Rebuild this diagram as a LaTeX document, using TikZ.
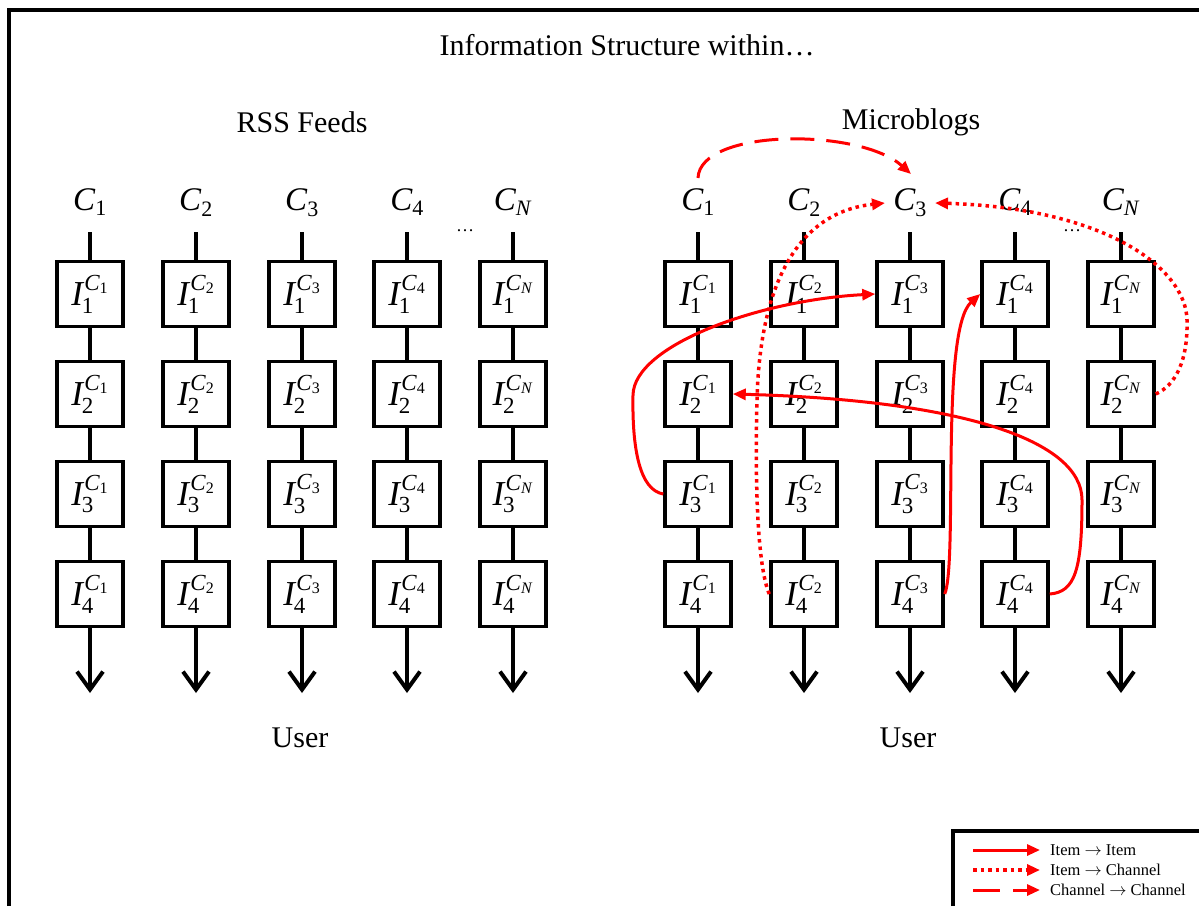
\documentclass[tikz,border=0pt]{standalone}
\usepackage{amsmath}
\usepackage{fontspec}
\setmainfont{Liberation Serif}
\usetikzlibrary{arrows.meta}
\DeclareMathSizes{33}{33}{22}{16}
\DeclareMathSizes{35}{35}{23}{16}
\newcommand{\chlab}[1]{$\textit{C}_{\text{#1}}$}
\newcommand{\itlab}[2]{$\textit{I}^{\kern1.5pt\raisebox{2pt}{$\scriptstyle\textit{C}_{\text{#1}}$}}_{\kern-1pt\text{#2}}$}
\begin{document}
\begin{tikzpicture}[x=1pt,y=-1pt,
  box/.style={draw,line width=3.5pt,minimum width=66pt,minimum height=65pt,inner sep=0pt,font=\fontsize{35}{42}\selectfont},
  link/.style={line width=4pt},
  down/.style={line width=4pt,-{Straight Barb[length=18pt,width=26pt]}},
  rs/.style={red,line width=3pt,-{Triangle[length=13pt,width=11pt]}},
  rdot/.style={rs,line width=3.5pt,dash pattern=on 3.5pt off 4pt},
  rdash/.style={rs,dash pattern=on 24pt off 12pt},
  lbl/.style={font=\fontsize{30}{36}\selectfont},
  chl/.style={font=\fontsize{33}{40}\selectfont,inner sep=0pt,anchor=base},
  leg/.style={font=\fontsize{16.5}{18}\selectfont,anchor=west,inner sep=0pt}
]
\useasboundingbox (0,0) rectangle (1199,906);
% frame
\draw[line width=3.5pt] (9,906) -- (9,10) -- (1199,10);
% titles
\node[lbl] (title) at (627,45) {Information Structure within…};
\node[lbl] (rss) at (302,122) {RSS Feeds};
\node[lbl] (mb) at (911,122) {Microblogs};
\node[lbl] (userL) at (300,738) {User};
\node[lbl] (userR) at (908,738) {User};
\node[font=\fontsize{18}{20}\selectfont,inner sep=0pt] (dotsL) at (465,231) {…};
\node[font=\fontsize{18}{20}\selectfont,inner sep=0pt] (dotsR) at (1072,231) {…};
% columns
\foreach \side/\xo in {L/0,R/608}{
  \foreach \c/\xx/\sub in {1/90/1,2/196/2,3/302/3,4/407/4,N/513/\textit{N}}{
    \coordinate (\side\c top) at (\xx+\xo,232);
    \coordinate (\side\c end) at (\xx+\xo,693);
    \node[chl] (\side C\c) at (\xx+\xo,210) {\chlab{\sub}};
    \foreach \r/\yy in {1/294,2/394,3/494,4/594}{
      \node[box] (\side\c\r) at (\xx+\xo,\yy) {\itlab{\sub}{\r}};
    }
    \draw[link] (\side\c top) -- (\side\c1);
    \draw[link] (\side\c1) -- (\side\c2);
    \draw[link] (\side\c2) -- (\side\c3);
    \draw[link] (\side\c3) -- (\side\c4);
    \draw[down] (\side\c4) -- (\side\c end);
  }
}
% red relations
\coordinate (dashS) at (698,178);
\coordinate (dashE) at (911,174);
\draw[rdash] (dashS) .. controls (700,128) and (860,128) .. (dashE);
\coordinate (dotAE) at (885,203);
\draw[rdot] (R24.west) .. controls (757,565) and (755,480) .. (757,400) .. controls (760,280) and (800,212) .. (dotAE);
\coordinate (dotBE) at (935,203);
\draw[rdot] (RN2.east) .. controls (1176,385) and (1188,360) .. (1187,320) .. controls (1186,268) and (1105,208) .. (dotBE);
\draw[rs] (R13.west) .. controls (640,490) and (632,450) .. (633,395) .. controls (634,345) and (760,300) .. (R31.west);
\draw[rs] (R34.east) .. controls (958,560) and (940,330) .. (R41.west);
\draw[rs] (R44.east) .. controls (1075,592) and (1082,570) .. (1082,500) .. controls (1082,440) and (960,400) .. (R12.east);
% legend
\draw[line width=3.5pt] (953,906) -- (953,831) -- (1199,831);
\coordinate (lgAs) at (973,850); \coordinate (lgAe) at (1040,850);
\coordinate (lgBs) at (973,870); \coordinate (lgBe) at (1040,870);
\coordinate (lgCs) at (973,890); \coordinate (lgCe) at (1040,890);
\draw[rs] (lgAs) -- (lgAe);
\draw[rdot] (lgBs) -- (lgBe);
\draw[rs,dash pattern=on 27pt off 13pt] (lgCs) -- (lgCe);
\node[leg] (ltA) at (1050,850) {Item $\rightarrow$ Item};
\node[leg] (ltB) at (1050,870) {Item $\rightarrow$ Channel};
\node[leg] (ltC) at (1050,890) {Channel $\rightarrow$ Channel};
\end{tikzpicture}
\end{document}
